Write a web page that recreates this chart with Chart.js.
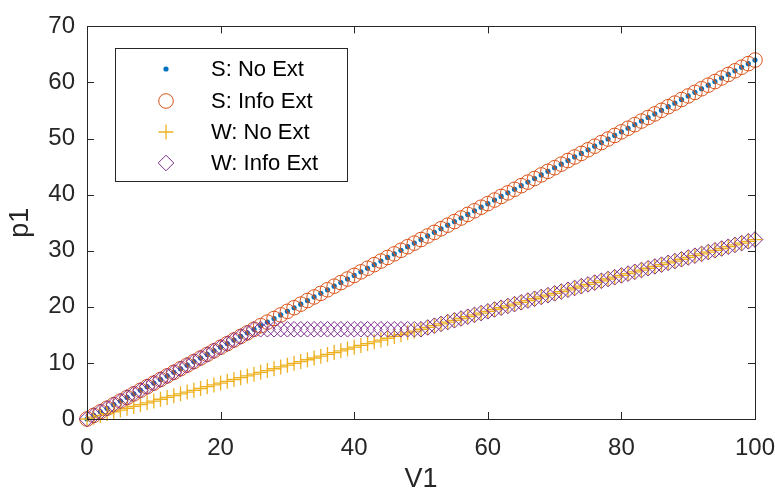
<!DOCTYPE html>
<html>
<head>
<meta charset="utf-8">
<script src="https://cdn.jsdelivr.net/npm/chart.js@4.4.1/dist/chart.umd.min.js"></script>
<style>
  html, body { margin: 0; padding: 0; background: #fff; }
  #chart { display: block; }
</style>
</head>
<body>
<canvas id="chart" width="775" height="493"></canvas>
<script>
// x values (V1)
const v1 = [
  0, 1, 2, 3, 4, 5, 6, 7, 8, 9,
  10, 11, 12, 13, 14, 15, 16, 17, 18, 19,
  20, 21, 22, 23, 24, 25, 26, 27, 28, 29,
  30, 31, 32, 33, 34, 35, 36, 37, 38, 39,
  40, 41, 42, 43, 44, 45, 46, 47, 48, 49,
  50, 51, 52, 53, 54, 55, 56, 57, 58, 59,
  60, 61, 62, 63, 64, 65, 66, 67, 68, 69,
  70, 71, 72, 73, 74, 75, 76, 77, 78, 79,
  80, 81, 82, 83, 84, 85, 86, 87, 88, 89,
  90, 91, 92, 93, 94, 95, 96, 97, 98, 99,
  100
];

// S: No Ext and S: Info Ext lie on top of each other
const sNoExt = [
  0, 0.64, 1.28, 1.92, 2.56, 3.2, 3.84, 4.48, 5.12, 5.76,
  6.4, 7.04, 7.68, 8.32, 8.96, 9.6, 10.24, 10.88, 11.52, 12.16,
  12.8, 13.44, 14.08, 14.72, 15.36, 16, 16.64, 17.28, 17.92, 18.56,
  19.2, 19.84, 20.48, 21.12, 21.76, 22.4, 23.04, 23.68, 24.32, 24.96,
  25.6, 26.24, 26.88, 27.52, 28.16, 28.8, 29.44, 30.08, 30.72, 31.36,
  32, 32.64, 33.28, 33.92, 34.56, 35.2, 35.84, 36.48, 37.12, 37.76,
  38.4, 39.04, 39.68, 40.32, 40.96, 41.6, 42.24, 42.88, 43.52, 44.16,
  44.8, 45.44, 46.08, 46.72, 47.36, 48, 48.64, 49.28, 49.92, 50.56,
  51.2, 51.84, 52.48, 53.12, 53.76, 54.4, 55.04, 55.68, 56.32, 56.96,
  57.6, 58.24, 58.88, 59.52, 60.16, 60.8, 61.44, 62.08, 62.72, 63.36,
  64
];
const sInfoExt = sNoExt;

const wNoExt = [
  0, 0.32, 0.64, 0.96, 1.28, 1.6, 1.92, 2.24, 2.56, 2.88,
  3.2, 3.52, 3.84, 4.16, 4.48, 4.8, 5.12, 5.44, 5.76, 6.08,
  6.4, 6.72, 7.04, 7.36, 7.68, 8, 8.32, 8.64, 8.96, 9.28,
  9.6, 9.92, 10.24, 10.56, 10.88, 11.2, 11.52, 11.84, 12.16, 12.48,
  12.8, 13.12, 13.44, 13.76, 14.08, 14.4, 14.72, 15.04, 15.36, 15.68,
  16, 16.32, 16.64, 16.96, 17.28, 17.6, 17.92, 18.24, 18.56, 18.88,
  19.2, 19.52, 19.84, 20.16, 20.48, 20.8, 21.12, 21.44, 21.76, 22.08,
  22.4, 22.72, 23.04, 23.36, 23.68, 24, 24.32, 24.64, 24.96, 25.28,
  25.6, 25.92, 26.24, 26.56, 26.88, 27.2, 27.52, 27.84, 28.16, 28.48,
  28.8, 29.12, 29.44, 29.76, 30.08, 30.4, 30.72, 31.04, 31.36, 31.68,
  32
];

const wInfoExt = [
  0, 0.64, 1.28, 1.92, 2.56, 3.2, 3.84, 4.48, 5.12, 5.76,
  6.4, 7.04, 7.68, 8.32, 8.96, 9.6, 10.24, 10.88, 11.52, 12.16,
  12.8, 13.44, 14.08, 14.72, 15.36, 16, 16, 16, 16, 16,
  16, 16, 16, 16, 16, 16, 16, 16, 16, 16,
  16, 16, 16, 16, 16, 16, 16, 16, 16, 16,
  16, 16.32, 16.64, 16.96, 17.28, 17.6, 17.92, 18.24, 18.56, 18.88,
  19.2, 19.52, 19.84, 20.16, 20.48, 20.8, 21.12, 21.44, 21.76, 22.08,
  22.4, 22.72, 23.04, 23.36, 23.68, 24, 24.32, 24.64, 24.96, 25.28,
  25.6, 25.92, 26.24, 26.56, 26.88, 27.2, 27.52, 27.84, 28.16, 28.48,
  28.8, 29.12, 29.44, 29.76, 30.08, 30.4, 30.72, 31.04, 31.36, 31.68,
  32
];

const seriesNames = ["S: No Ext", "S: Info Ext", "W: No Ext", "W: Info Ext"];
const xTicks = [0, 20, 40, 60, 80, 100];
const yTicks = [0, 10, 20, 30, 40, 50, 60, 70];

const axisColor = "#262626";
const fontFamily = "'Liberation Sans', Arial, Helvetica, sans-serif";

function points(ys) {
  return v1.map((x, i) => ({ x: x, y: ys[i] }));
}

const styles = [
  { pointStyle: "circle", radius: 2.6, fill: "#0072BD", stroke: "#0072BD", width: 0 },
  { pointStyle: "circle", radius: 7.3, fill: "rgba(0,0,0,0)", stroke: "#D95319", width: 1 },
  { pointStyle: "cross", radius: 7.5, fill: "rgba(0,0,0,0)", stroke: "#EDB120", width: 1.3 },
  { pointStyle: "rectRot", radius: 7.8, fill: "rgba(0,0,0,0)", stroke: "#7E2F8E", width: 1 }
];

const seriesData = [sNoExt, sInfoExt, wNoExt, wInfoExt];

const datasets = seriesData.map((ys, i) => ({
  label: seriesNames[i],
  data: points(ys),
  showLine: false,
  pointStyle: styles[i].pointStyle,
  pointRadius: styles[i].radius,
  pointBackgroundColor: styles[i].fill,
  pointBorderColor: styles[i].stroke,
  pointBorderWidth: styles[i].width,
  clip: false,
  order: 3 - i
}));

// box around the plot, inward ticks on all sides, and the legend
const matlabAxes = {
  id: "matlabAxes",
  afterDatasetsDraw(chart) {
    const ctx = chart.ctx;
    const a = chart.chartArea;
    const xs = chart.scales.x;
    const ys = chart.scales.y;
    const tick = 7;

    ctx.save();
    ctx.strokeStyle = axisColor;
    ctx.lineWidth = 1;
    ctx.strokeRect(Math.round(a.left) + 0.5, Math.round(a.top) + 0.5,
      Math.round(a.right - a.left), Math.round(a.bottom - a.top));

    ctx.beginPath();
    xTicks.forEach(v => {
      const px = Math.round(xs.getPixelForValue(v)) + 0.5;
      ctx.moveTo(px, a.bottom);
      ctx.lineTo(px, a.bottom - tick);
      ctx.moveTo(px, a.top);
      ctx.lineTo(px, a.top + tick);
    });
    yTicks.forEach(v => {
      const py = Math.round(ys.getPixelForValue(v)) + 0.5;
      ctx.moveTo(a.left, py);
      ctx.lineTo(a.left + tick, py);
      ctx.moveTo(a.right, py);
      ctx.lineTo(a.right - tick, py);
    });
    ctx.stroke();

    // legend
    const box = { x: 115.5, y: 48.5, w: 232, h: 133 };
    ctx.fillStyle = "#fff";
    ctx.fillRect(box.x, box.y, box.w, box.h);
    ctx.strokeStyle = axisColor;
    ctx.strokeRect(box.x, box.y, box.w, box.h);

    const rowY = [69, 101, 132, 163];
    ctx.font = "22px " + fontFamily;
    ctx.textBaseline = "middle";
    ctx.textAlign = "left";
    seriesNames.forEach((name, i) => {
      const st = styles[i];
      ctx.fillStyle = st.fill;
      ctx.strokeStyle = st.stroke;
      ctx.lineWidth = st.width;
      Chart.helpers.drawPoint(ctx, {
        pointStyle: st.pointStyle,
        radius: st.radius,
        rotation: 0,
        borderWidth: st.width
      }, 166, rowY[i]);
      ctx.fillStyle = "#000";
      ctx.fillText(name, 211, rowY[i] + 1);
    });
    ctx.restore();
  }
};

new Chart(document.getElementById("chart"), {
  type: "scatter",
  data: { datasets: datasets },
  options: {
    responsive: false,
    animation: false,
    events: [],
    layout: { padding: { left: 0, top: 23, right: 0, bottom: 0 } },
    plugins: {
      legend: { display: false },
      tooltip: { enabled: false }
    },
    scales: {
      x: {
        type: "linear",
        min: 0,
        max: 100,
        afterFit(scale) { scale.height = 74; scale.paddingRight = 20; },
        afterBuildTicks(scale) { scale.ticks = xTicks.map(v => ({ value: v })); },
        grid: { display: false, drawTicks: false },
        border: { display: false },
        ticks: {
          color: axisColor,
          padding: 15,
          maxRotation: 0,
          font: { family: fontFamily, size: 24 }
        },
        title: {
          display: true,
          text: "V1",
          color: axisColor,
          padding: { top: 0, bottom: 0 },
          font: { family: fontFamily, size: 27, lineHeight: 1 }
        }
      },
      y: {
        type: "linear",
        min: 0,
        max: 70,
        afterFit(scale) { scale.width = 87; },
        afterBuildTicks(scale) { scale.ticks = yTicks.map(v => ({ value: v })); },
        grid: { display: false, drawTicks: false },
        border: { display: false },
        ticks: {
          color: axisColor,
          padding: 12,
          font: { family: fontFamily, size: 24 }
        },
        title: {
          display: true,
          text: "p1",
          color: axisColor,
          padding: { top: 4, bottom: 0 },
          font: { family: fontFamily, size: 27 }
        }
      }
    }
  },
  plugins: [matlabAxes]
});
</script>
</body>
</html>
